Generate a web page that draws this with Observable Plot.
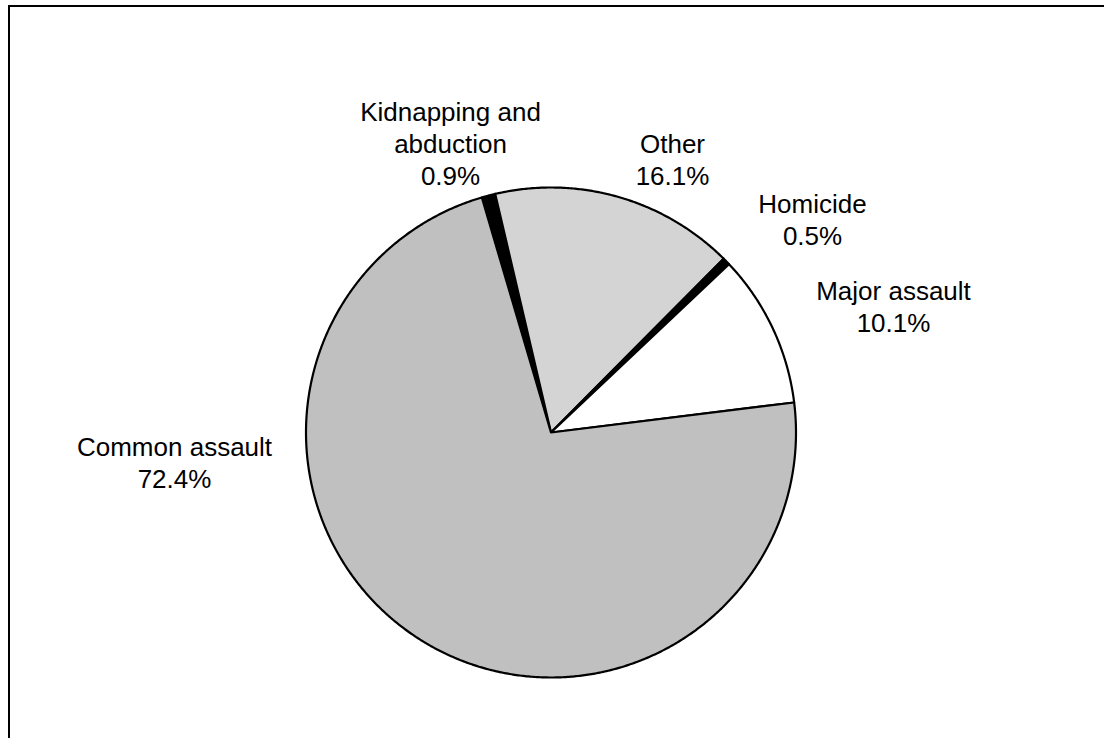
<!DOCTYPE html>
<html>
<head>
<meta charset="utf-8">
<script src="https://cdn.jsdelivr.net/npm/d3@7"></script>
<script src="https://cdn.jsdelivr.net/npm/@observablehq/plot@0.6"></script>
<style>
  html, body { margin: 0; padding: 0; background: #fff; overflow: hidden; width: 1104px; height: 738px; }
  #wrap { position: relative; width: 1104px; height: 738px; overflow: hidden; }
  #border { position: absolute; left: 8px; top: 5px; width: 1200px; height: 900px;
            border-left: 2px solid #000; border-top: 2px solid #000; box-sizing: border-box; }
  #chart { position: absolute; left: 0; top: 0; }
  #chart svg { display: block; }
</style>
</head>
<body>
<div id="wrap">
  <div id="border"></div>
  <div id="chart"></div>
</div>
<script>
// ---- data ----
const categories = ["Kidnapping and abduction", "Other", "Homicide", "Major assault", "Common assault"];
const shares = [0.9, 16.1, 0.5, 10.1, 72.4];
const labelNames = ["Kidnapping and\nabduction", "Other", "Homicide", "Major assault", "Common assault"];

// ---- layout / style ----
const fills = ["#000000", "url(#otherPattern)", "#000000", "#ffffff", "#c0c0c0"];
const labelPos = [[450, 98.2], [672, 129.8], [812, 189.8], [893, 276.5], [174, 433.2]];
const cx = 550.5, cy = 432, R = 245;
const startDeg = -16.4;

const pie = d3.pie().sort(null).value(d => d)
  .startAngle(startDeg * Math.PI / 180)
  .endAngle((startDeg + 360) * Math.PI / 180);
const arcs = pie(shares);

const poly = [];
arcs.forEach((a, i) => {
  poly.push({category: categories[i], x: cx, y: cy});
  const n = Math.max(2, Math.ceil((a.endAngle - a.startAngle) / (0.4 * Math.PI / 180)));
  for (let k = 0; k <= n; k++) {
    const t = a.startAngle + (a.endAngle - a.startAngle) * k / n;
    poly.push({category: categories[i], x: cx + R * Math.sin(t), y: cy - R * Math.cos(t)});
  }
});

const labels = categories.map((c, i) => ({
  x: labelPos[i][0], y: labelPos[i][1],
  text: `${labelNames[i]}\n${shares[i].toFixed(1)}%`
}));

const svg = Plot.plot({
  width: 1104, height: 738, margin: 0,
  x: {domain: [0, 1104], range: [0, 1104], axis: null},
  y: {domain: [0, 738], range: [0, 738], axis: null},
  color: {type: "ordinal", domain: categories, range: fills},
  style: {background: "transparent"},
  marks: [
    Plot.line(poly, {x: "x", y: "y", z: "category", fill: "category", stroke: "#000",
      strokeWidth: 2.2, strokeLinejoin: "round", curve: "linear-closed"}),
    Plot.text(labels, {x: "x", y: "y", text: "text", fontSize: 26, lineHeight: 1.23,
      lineAnchor: "top", fontFamily: "Liberation Sans, Arial, sans-serif", fill: "#000"})
  ]
});

// pattern for "Other"
const ns = "http://www.w3.org/2000/svg";
const defs = document.createElementNS(ns, "defs");
const pat = document.createElementNS(ns, "pattern");
pat.setAttribute("id", "otherPattern");
pat.setAttribute("patternUnits", "userSpaceOnUse");
pat.setAttribute("width", "2");
pat.setAttribute("height", "2");
const rects = [[0, 0, 2, 2, "#ffffff"], [0, 0, 1, 1, "#a8a8a8"], [1, 1, 1, 1, "#a8a8a8"]];
rects.forEach(([x, y, w, h, f]) => {
  const r = document.createElementNS(ns, "rect");
  r.setAttribute("x", x); r.setAttribute("y", y);
  r.setAttribute("width", w); r.setAttribute("height", h);
  r.setAttribute("fill", f);
  pat.appendChild(r);
});
defs.appendChild(pat);
svg.insertBefore(defs, svg.firstChild);

document.getElementById("chart").appendChild(svg);
</script>
</body>
</html>
